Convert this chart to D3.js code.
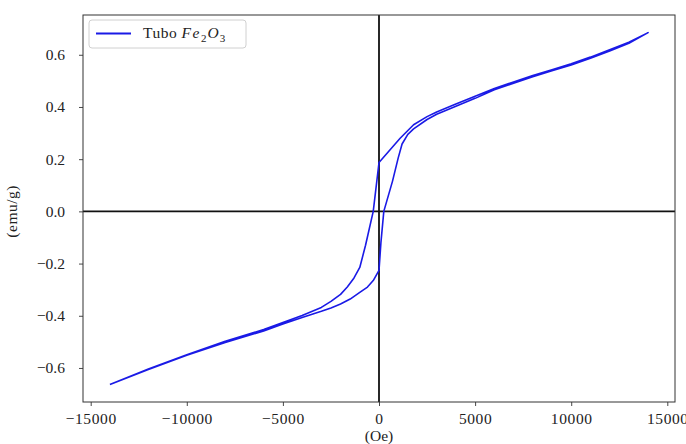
<!DOCTYPE html>
<html>
<head>
<meta charset="utf-8">
<script src="https://cdn.jsdelivr.net/npm/d3@7"></script>
<style>
  body { margin: 0; background: #fff; }
  text { font-family: "Liberation Serif", "DejaVu Serif", serif; fill: #222; }
</style>
</head>
<body>
<svg id="drawing_region"></svg>
<script>
// ascending branch (field going up)
const ascH = [-14000, -12000, -10000, -8000, -6000, -5000, -4000, -3000, -2500, -2000, -1500, -1000, -600, -300, 0,
              100, 250, 700, 1000, 1200, 1500, 1800, 2500, 3000, 4000, 5000, 6000, 7000, 8000, 9000, 10000,
              11000, 12000, 13000, 14000];
const ascM = [-0.663, -0.606, -0.551, -0.502, -0.458, -0.432, -0.407, -0.383, -0.370, -0.355, -0.336, -0.310, -0.290, -0.265, -0.226,
              -0.120, 0.000, 0.115, 0.205, 0.258, 0.295, 0.316, 0.352, 0.372, 0.403, 0.433, 0.466, 0.491, 0.516, 0.539, 0.561,
              0.587, 0.614, 0.644, 0.685];
// descending branch (field going down)
const descH = [14000, 13000, 12000, 11000, 10000, 9000, 8000, 7000, 6000, 5000, 4000, 3000, 2500, 1800, 1100, 0,
               -300, -700, -1000, -1300, -1650, -2000, -2500, -3000, -4000, -5000, -6000, -8000, -10000, -12000, -14000];
const descM = [0.685, 0.648, 0.619, 0.591, 0.566, 0.543, 0.521, 0.496, 0.471, 0.441, 0.411, 0.381, 0.363, 0.332, 0.280, 0.187,
               0.000, -0.130, -0.215, -0.255, -0.290, -0.318, -0.345, -0.368, -0.399, -0.426, -0.453, -0.498, -0.549, -0.604, -0.663];

const xTicks = [-15000, -10000, -5000, 0, 5000, 10000, 15000];
const yTicks = [-0.6, -0.4, -0.2, 0.0, 0.2, 0.4, 0.6];
const legendLabel = "Tubo";

const config = {
    width: 686,
    height: 444,
    margin: {top: 15, right: 11, bottom: 42, left: 83}
};

const points = ascH.map((h, i) => ({h: h, m: ascM[i]}))
    .concat(descH.map((h, i) => ({h: h, m: descM[i]})));

const svg = d3.select("#drawing_region")
    .attr("width", config.width)
    .attr("height", config.height);

const inner_width = config.width - config.margin.left - config.margin.right;
const inner_height = config.height - config.margin.top - config.margin.bottom;

const chart = svg.append("g")
    .attr("transform", `translate(${config.margin.left}, ${config.margin.top})`);

// matplotlib-like 5% padding
const pad = (ext) => { const d = (ext[1] - ext[0]) * 0.05; return [ext[0] - d, ext[1] + d]; };

const xScale = d3.scaleLinear()
    .domain(pad(d3.extent(points, d => d.h)))
    .range([0, inner_width]);

const yScale = d3.scaleLinear()
    .domain(pad(d3.extent(points, d => d.m)))
    .range([inner_height, 0]);

// axes
const xAxis = d3.axisBottom(xScale).tickValues(xTicks).tickSize(4).tickPadding(7)
    .tickFormat(d3.format("d"));
const yAxis = d3.axisLeft(yScale).tickValues(yTicks).tickSize(4).tickPadding(14)
    .tickFormat(d3.format(".1f"));

const gx = chart.append("g").attr("transform", `translate(0, ${inner_height})`).call(xAxis);
const gy = chart.append("g").call(yAxis);
[gx, gy].forEach(g => {
    g.select(".domain").remove();
    g.selectAll(".tick line").attr("stroke", "#333").attr("stroke-width", 0.9);
    g.selectAll(".tick text").style("font-size", "15.5px").attr("fill", "#222")
        .style("font-family", "'Liberation Serif', serif");
});
gx.selectAll(".tick text").attr("letter-spacing", "0.6px");

// zero lines
chart.append("line")
    .attr("x1", 0).attr("x2", inner_width)
    .attr("y1", yScale(0)).attr("y2", yScale(0))
    .attr("stroke", "#111").attr("stroke-width", 1.8);
chart.append("line")
    .attr("x1", xScale(0)).attr("x2", xScale(0))
    .attr("y1", 0).attr("y2", inner_height)
    .attr("stroke", "#111").attr("stroke-width", 1.8);

// the loop
const line = d3.line()
    .x(d => xScale(d.h))
    .y(d => yScale(d.m));

chart.append("path")
    .datum(points)
    .attr("d", line)
    .attr("fill", "none")
    .attr("stroke", "#1a1ae6")
    .attr("stroke-width", 1.6)
    .attr("stroke-linejoin", "round");

// frame
chart.append("rect")
    .attr("width", inner_width).attr("height", inner_height)
    .attr("fill", "none").attr("stroke", "#333").attr("stroke-width", 1);

// axis labels
svg.append("text")
    .attr("x", config.margin.left + xScale(0))
    .attr("y", 441)
    .attr("text-anchor", "middle")
    .style("font-size", "15.5px")
    .text("(Oe)");

svg.append("text")
    .attr("transform", `translate(17, ${config.margin.top + yScale(0)}) rotate(-90)`)
    .attr("text-anchor", "middle")
    .style("font-size", "15.5px")
    .attr("letter-spacing", "0.5px")
    .text("(emu/g)");

// legend
const legend = svg.append("g").attr("transform", "translate(89, 20)");
legend.append("rect")
    .attr("width", 157).attr("height", 28).attr("rx", 3)
    .attr("fill", "#fff").attr("stroke", "#d0d0d0").attr("stroke-width", 1);
legend.append("line")
    .attr("x1", 7).attr("x2", 42).attr("y1", 13.5).attr("y2", 13.5)
    .attr("stroke", "#1a1ae6").attr("stroke-width", 1.8);
const lt = legend.append("text")
    .attr("x", 54).attr("y", 18)
    .style("font-size", "15.5px");
lt.append("tspan").attr("letter-spacing", "0.5px").text(legendLabel + "  ");
lt.append("tspan").style("font-style", "italic").attr("letter-spacing", "1.5px").text("Fe");
lt.append("tspan").attr("dy", 4).style("font-size", "11px").text("2");
lt.append("tspan").attr("dy", -4).attr("dx", 1).style("font-style", "italic").text("O");
lt.append("tspan").attr("dy", 4).attr("dx", 1).style("font-size", "11px").text("3");
</script>
</body>
</html>
